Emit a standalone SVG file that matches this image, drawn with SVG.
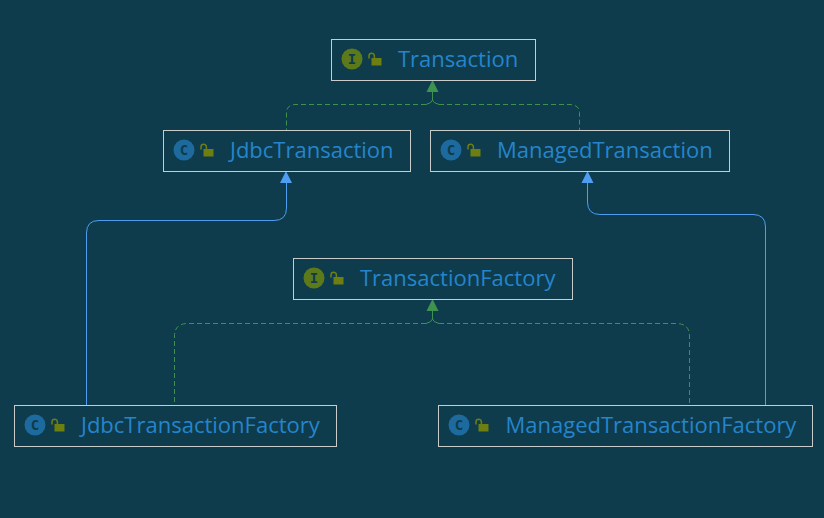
<svg xmlns="http://www.w3.org/2000/svg" width="824" height="518" viewBox="0 0 824 518">
<style>
.box{fill:#0e3c4c;stroke:#c8cdcc;stroke-width:1}
.lbl{font-family:"Open Sans","Noto Sans",sans-serif;font-size:22px;fill:#2585cc}
.ci{fill:#1d6a9e}.ii{fill:#5d7a1a}
.gl{font-family:"DejaVu Sans Mono","Liberation Mono",monospace;font-size:14px;font-weight:bold;fill:#0e3c4c;text-anchor:middle}
.lb{fill:#6e7f12}.ls{fill:none;stroke:#6e7f12;stroke-width:1.5}
.d{fill:none;stroke:#3f9150;stroke-width:1;stroke-dasharray:5 3}
.s{fill:none;stroke:#4f9df0;stroke-width:1}
.st{fill:none;stroke:#3f9150;stroke-width:1}
</style>
<defs>
<g id="lock"><rect x="2.500" y="3" width="10" height="7.500" class="lb"/><path d="M0 3.500V1a2.700 2.700 0 0 1 5.400 0V3" class="ls"/></g>
</defs>
<rect width="824" height="518" fill="#0e3c4c"/>
<g id="connectors">
<path class="st" d="M432.500 92V100Q432 103 426 104.500"/>
<path class="st" d="M432.500 100Q433 103 439 104.500"/>
<path class="d" d="M426 104.500H295Q286.500 105 286.500 113V130"/>
<path class="d" d="M439 104.500H570Q579.500 105 579.500 113V130"/>
<path class="st" d="M432.500 311V319Q432 322 426 323.500"/>
<path class="st" d="M432.500 319Q433 322 439 323.500"/>
<path class="d" d="M426 323.500H187Q174.500 324 174.500 336V405"/>
<path class="d" d="M439 323.500H677Q689.500 324 689.500 336V405"/>
<path class="s" d="M286.500 183V208Q286.500 220.500 274 220.500H99Q86.500 220.500 86.500 233V405"/>
<path class="s" d="M587.500 183V202Q587.500 214.500 600 214.500H753Q765.500 214.500 765.500 227V405"/>
<path d="M432.500 80L438.500 92H426.500Z" fill="#3f9150"/>
<path d="M432.500 299L438.500 311H426.500Z" fill="#3f9150"/>
<path d="M286 171L292 183H280Z" fill="#4f9df0"/>
<path d="M587.500 171L593.500 183H581.500Z" fill="#4f9df0"/>
</g>
<g id="Transaction">
<rect class="box" x="331.500" y="39.500" width="204" height="41"/>
<circle class="ii" cx="352" cy="59" r="10.500"/><text class="gl" x="352" y="64">I</text>
<use href="#lock" x="369" y="55"/>
<text class="lbl" x="398" y="67">Transaction</text>
</g>
<g id="JdbcTransaction">
<rect class="box" x="163.500" y="130.500" width="247" height="41"/>
<circle class="ci" cx="184" cy="150" r="10.500"/><text class="gl" x="184" y="155">C</text>
<use href="#lock" x="201" y="146"/>
<text class="lbl" x="230" y="158">JdbcTransaction</text>
</g>
<g id="ManagedTransaction">
<rect class="box" x="430.500" y="130.500" width="299" height="41"/>
<circle class="ci" cx="451" cy="150" r="10.500"/><text class="gl" x="451" y="155">C</text>
<use href="#lock" x="468" y="146"/>
<text class="lbl" x="497" y="158">ManagedTransaction</text>
</g>
<g id="TransactionFactory">
<rect class="box" x="293.500" y="258.500" width="279" height="41"/>
<circle class="ii" cx="314" cy="278" r="10.500"/><text class="gl" x="314" y="283">I</text>
<use href="#lock" x="331" y="274"/>
<text class="lbl" x="360" y="286">TransactionFactory</text>
</g>
<g id="JdbcTransactionFactory">
<rect class="box" x="14.500" y="405.500" width="322" height="41"/>
<circle class="ci" cx="35" cy="425" r="10.500"/><text class="gl" x="35" y="430">C</text>
<use href="#lock" x="52" y="421"/>
<text class="lbl" x="81" y="433">JdbcTransactionFactory</text>
</g>
<g id="ManagedTransactionFactory">
<rect class="box" x="438.500" y="405.500" width="374" height="41"/>
<circle class="ci" cx="459" cy="425" r="10.500"/><text class="gl" x="459" y="430">C</text>
<use href="#lock" x="476" y="421"/>
<text class="lbl" x="505.500" y="433">ManagedTransactionFactory</text>
</g>
</svg>
